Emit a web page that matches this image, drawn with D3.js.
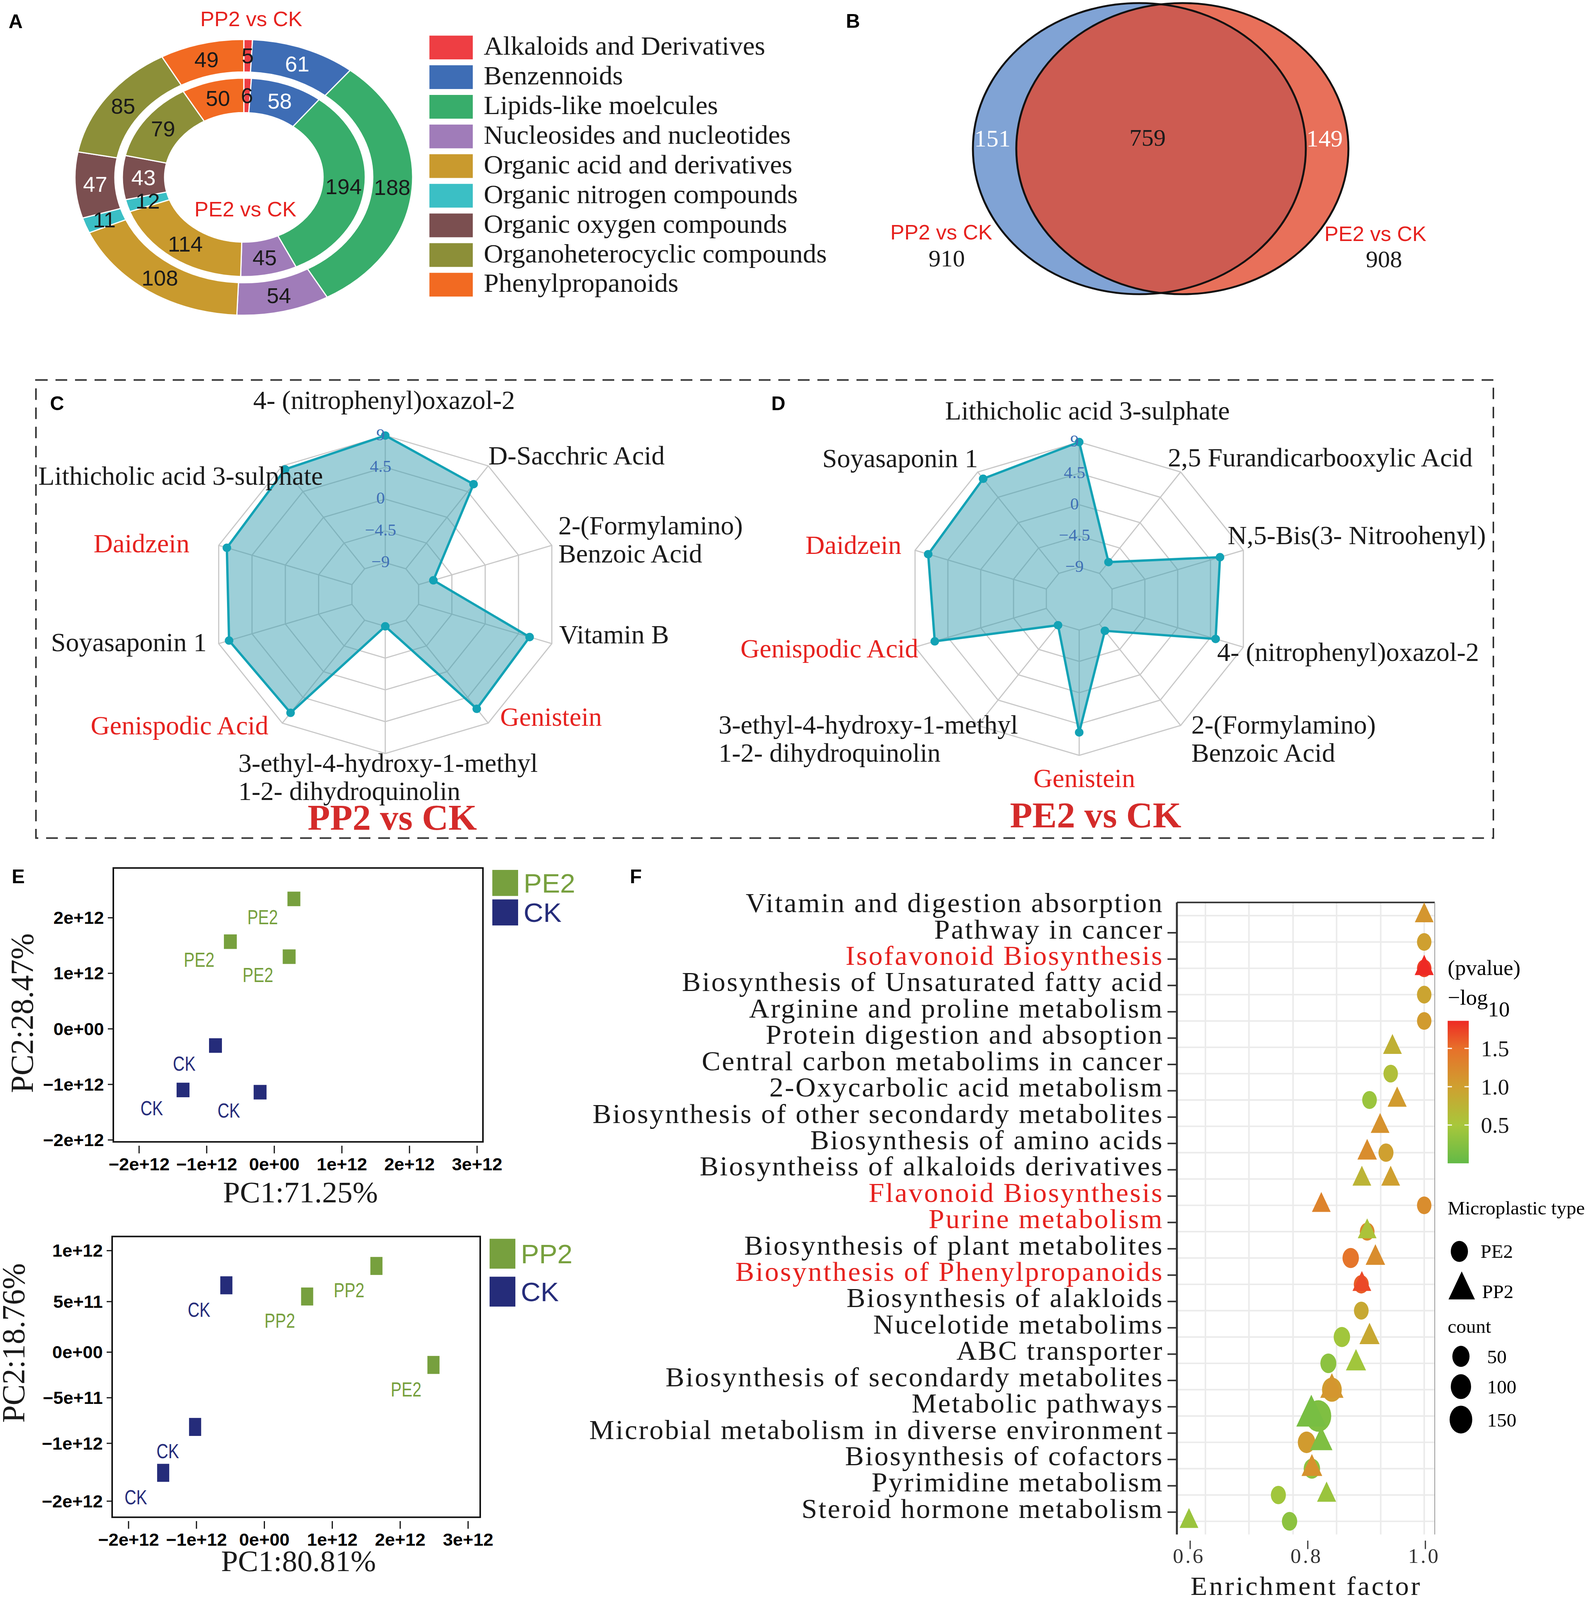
<!DOCTYPE html>
<html>
<head>
<meta charset="utf-8">
<title>Metabolite figure</title>
<script src="https://d3js.org/d3.v7.min.js"></script>
<style>
  html, body { margin: 0; padding: 0; background: #ffffff; overflow: hidden; }
  svg { display: block; }
  svg text { font-family: "Liberation Serif", "Times New Roman", serif; }
  svg text.sans { font-family: "Liberation Sans", Arial, sans-serif; }
</style>
</head>
<body>
<script>
// ---------------- data ----------------

// A: compound classes (outer ring = PP2 vs CK, inner ring = PE2 vs CK)
const classNames = [
  "Alkaloids and Derivatives",
  "Benzennoids",
  "Lipids-like moelcules",
  "Nucleosides and nucleotides",
  "Organic acid and derivatives",
  "Organic nitrogen compounds",
  "Organic oxygen compounds",
  "Organoheterocyclic compounds",
  "Phenylpropanoids"
];
const classColors = ["#ee3e43", "#3e6db5", "#38ad6b", "#a07cb9", "#c99a2e", "#3bbfc5", "#7b4f50", "#8c8f38", "#f26a22"];
const pp2Counts = [5, 61, 188, 54, 108, 11, 47, 85, 49];
const pe2Counts = [6, 58, 194, 45, 114, 12, 43, 79, 50];

// B: venn
const vennLabels = ["PP2 vs CK", "PE2 vs CK"];
const vennTotals = [910, 908];
const vennOnly = [151, 149];
const vennShared = 759;

// C / D: radar charts (axes listed clockwise from the top)
const radarTicks = [-9, -4.5, 0, 4.5, 9];
const radarTickLabels = ["\u22129", "\u22124.5", "0", "4.5", "9"];
const redCompounds = ["Daidzein", "Genispodic Acid", "Genistein"];

const radarCNames = [
  "4- (nitrophenyl)oxazol-2",
  "D-Sacchric Acid",
  "2-(Formylamino)|Benzoic Acid",
  "Vitamin B",
  "Genistein",
  "3-ethyl-4-hydroxy-1-methyl|1-2- dihydroquinolin",
  "Genispodic Acid",
  "Soyasaponin 1",
  "Daidzein",
  "Lithicholic acid 3-sulphate"
];
const radarCValues = [9, 5.8, -7, 6, 6.5, -9, 7.2, 7.6, 7.9, 8.4];

const radarDNames = [
  "Lithicholic acid 3-sulphate",
  "2,5 Furandicarbooxylic Acid",
  "N,5-Bis(3- Nitroohenyl)",
  "4- (nitrophenyl)oxazol-2",
  "2-(Formylamino)|Benzoic Acid",
  "Genistein",
  "3-ethyl-4-hydroxy-1-methyl|1-2- dihydroquinolin",
  "Genispodic Acid",
  "Daidzein",
  "Soyasaponin 1"
];
const radarDValues = [9, -7, 5.8, 5.2, -7.8, 5.7, -8.8, 6.3, 7.2, 7.8];

// E: PCA score plots
const pcaTicksX = [-2e12, -1e12, 0, 1e12, 2e12, 3e12];
const pcaTickLabelsX = ["\u22122e+12", "\u22121e+12", "0e+00", "1e+12", "2e+12", "3e+12"];

const pcaTopTicksY = [-2e12, -1e12, 0, 1e12, 2e12];
const pcaTopTickLabelsY = ["\u22122e+12", "\u22121e+12", "0e+00", "1e+12", "2e+12"];
const pcaTopGroups = ["PE2", "PE2", "PE2", "CK", "CK", "CK"];
const pcaTopPC1 = [0.29e12, -0.65e12, 0.22e12, -0.87e12, -1.35e12, -0.21e12];
const pcaTopPC2 = [2.34e12, 1.57e12, 1.30e12, -0.30e12, -1.10e12, -1.14e12];

const pcaBotTicksY = [-2e12, -1e12, -5e11, 0, 5e11, 1e12];
const pcaBotTickLabelsY = ["\u22122e+12", "\u22121e+12", "\u22125e+11", "0e+00", "5e+11", "1e+12"];
const pcaBotGroups = ["CK", "PP2", "PP2", "PE2", "CK", "CK"];
const pcaBotPC1 = [-0.56e12, 0.63e12, 1.65e12, 2.49e12, -1.02e12, -1.49e12];
const pcaBotPC2 = [6.6e11, 5.5e11, 8.5e11, -1.4e11, -8.2e11, -1.51e12];

// F: KEGG enrichment
const pathways = [
  "Vitamin and digestion absorption",
  "Pathway in cancer",
  "Isofavonoid Biosynthesis",
  "Biosynthesis of Unsaturated fatty acid",
  "Arginine and proline metabolism",
  "Protein digestion and absoption",
  "Central carbon metabolims in cancer",
  "2-Oxycarbolic acid metabolism",
  "Biosynthesis of other secondardy metabolites",
  "Biosynthesis of amino acids",
  "Biosyntheiss of alkaloids derivatives",
  "Flavonoid Biosynthesis",
  "Purine metabolism",
  "Biosynthesis of plant metabolites",
  "Biosynthesis of Phenylpropanoids",
  "Biosynthesis of alakloids",
  "Nucelotide metabolims",
  "ABC transporter",
  "Biosynthesis of secondardy metabolites",
  "Metabolic pathways",
  "Microbial metabolism in diverse environment",
  "Biosynthesis of cofactors",
  "Pyrimidine metabolism",
  "Steroid hormone metabolism"
];
const redPathways = ["Isofavonoid Biosynthesis", "Flavonoid Biosynthesis", "Purine metabolism", "Biosynthesis of Phenylpropanoids"];

const pe2Pathway = [
  "Pathway in cancer", "Isofavonoid Biosynthesis", "Biosynthesis of Unsaturated fatty acid",
  "Arginine and proline metabolism", "Central carbon metabolims in cancer", "2-Oxycarbolic acid metabolism",
  "Biosynthesis of amino acids", "Flavonoid Biosynthesis", "Purine metabolism",
  "Biosynthesis of plant metabolites", "Biosynthesis of Phenylpropanoids", "Biosynthesis of alakloids",
  "Nucelotide metabolims", "ABC transporter", "Biosynthesis of secondardy metabolites",
  "Metabolic pathways", "Microbial metabolism in diverse environment", "Biosynthesis of cofactors",
  "Pyrimidine metabolism", "Steroid hormone metabolism"
];
const pe2Factor = [1.0, 1.0, 1.0, 1.0, 0.943, 0.907, 0.935, 1.0, 0.903, 0.875, 0.893, 0.893, 0.86, 0.837, 0.843, 0.82, 0.80, 0.809, 0.752, 0.771];
const pe2Count = [20, 20, 20, 20, 20, 22, 25, 20, 22, 40, 25, 22, 40, 35, 90, 230, 55, 40, 25, 28];
const pe2LogP = [1.0, 1.75, 0.95, 1.05, 0.6, 0.4, 1.0, 1.2, 1.25, 1.45, 1.6, 0.9, 0.45, 0.3, 1.05, 0.2, 1.05, 0.3, 0.45, 0.3];

const pp2Pathway = [
  "Vitamin and digestion absorption", "Isofavonoid Biosynthesis", "Protein digestion and absoption",
  "2-Oxycarbolic acid metabolism", "Biosynthesis of other secondardy metabolites", "Biosynthesis of amino acids",
  "Biosyntheiss of alkaloids derivatives", "Biosyntheiss of alkaloids derivatives", "Flavonoid Biosynthesis",
  "Purine metabolism", "Biosynthesis of plant metabolites", "Biosynthesis of Phenylpropanoids",
  "Nucelotide metabolims", "ABC transporter", "Biosynthesis of secondardy metabolites",
  "Metabolic pathways", "Microbial metabolism in diverse environment", "Biosynthesis of cofactors",
  "Pyrimidine metabolism", "Steroid hormone metabolism"
];
const pp2Factor = [1.0, 1.0, 0.946, 0.954, 0.925, 0.903, 0.894, 0.943, 0.825, 0.903, 0.917, 0.894, 0.907, 0.884, 0.843, 0.808, 0.825, 0.809, 0.834, 0.6];
const pp2Count = [20, 22, 20, 22, 20, 25, 20, 20, 20, 20, 25, 20, 30, 30, 60, 160, 50, 35, 22, 20];
const pp2LogP = [1.1, 1.86, 0.8, 1.05, 1.15, 1.2, 0.75, 1.0, 1.3, 0.55, 1.2, 1.7, 0.9, 0.45, 1.1, 0.15, 0.2, 1.15, 0.4, 0.4];

const enrichTicks = [0.6, 0.8, 1.0];
const enrichGrid = [0.628, 0.702, 0.777, 0.851, 0.926, 1.0];
const logPTicks = [0.5, 1.0, 1.5];
const countTicks = [50, 100, 150];

// ---------------- page ----------------
// drawn in 4077 x 4177 units, stretched to whatever the viewport really is
const W = 4077, H = 4177;
const RED = "#e6221f";
const svg = d3.select("body").append("svg")
  .attr("viewBox", `0 0 ${W} ${H}`)
  .attr("preserveAspectRatio", "none")
  .style("width", "100vw")
  .style("height", "100vh");
svg.append("rect").attr("width", W).attr("height", H).attr("fill", "#fff");
const defs = svg.append("defs");

// panel letters
[["A", 22, 73], ["B", 2165, 72], ["C", 128, 1071], ["D", 1974, 1071], ["E", 30, 2306], ["F", 1612, 2306]]
  .forEach(([t, x, y]) => {
    svg.append("text").attr("class", "sans").attr("x", x).attr("y", y)
      .attr("font-size", 50).attr("font-weight", "bold").text(t);
  });

// ---------------- A: double donut ----------------
const donut = svg.append("g").attr("transform", "translate(624,463)");
const donutShapes = donut.append("g").attr("transform", "scale(1.2,1)");
const pie = d3.pie().sort(null).value(d => d);
const donutRings = [
  { counts: pp2Counts, arc: d3.arc().innerRadius(275).outerRadius(360) },
  { counts: pe2Counts, arc: d3.arc().innerRadius(169).outerRadius(259) }
];
donutRings.forEach(ring => {
  const slices = pie(ring.counts);
  donutShapes.selectAll(null).data(slices).enter().append("path")
    .attr("d", ring.arc)
    .attr("fill", (d, i) => classColors[i])
    .attr("stroke", "#fff")
    .attr("stroke-width", 3)
    .attr("vector-effect", "non-scaling-stroke");
  donut.selectAll(null).data(slices).enter().append("text")
    .attr("class", "sans")
    .attr("x", d => ring.arc.centroid(d)[0] * 1.2)
    .attr("y", d => ring.arc.centroid(d)[1] + 20)
    .attr("text-anchor", "middle")
    .attr("font-size", 56)
    .attr("fill", (d, i) => (i === 1 || i === 6 ? "#fff" : "#1a1a1a"))
    .text(d => d.data);
});
svg.append("text").attr("class", "sans").attr("x", 643).attr("y", 68)
  .attr("text-anchor", "middle").attr("font-size", 54).attr("fill", RED).text("PP2 vs CK");
svg.append("text").attr("class", "sans").attr("x", 628).attr("y", 565)
  .attr("text-anchor", "middle").attr("font-size", 54).attr("fill", RED).text("PE2 vs CK");

// legend
const legendA = svg.append("g").selectAll("g").data(classNames).enter().append("g")
  .attr("transform", (d, i) => `translate(1099,${93 + i * 77.4})`);
legendA.append("rect").attr("width", 111).attr("height", 62).attr("fill", (d, i) => classColors[i]);
legendA.append("text").attr("x", 139).attr("y", 50).attr("font-size", 69).attr("fill", "#1a1a1a").text(d => d);

// ---------------- B: venn ----------------
const vennG = svg.append("g");
const leftSet = { cx: 2916, cy: 388, rx: 426, ry: 380 };
const rightSet = { cx: 3026, cy: 388, rx: 425, ry: 380 };
defs.append("clipPath").attr("id", "leftClip").append("ellipse")
  .attr("cx", leftSet.cx).attr("cy", leftSet.cy).attr("rx", leftSet.rx).attr("ry", leftSet.ry);
vennG.append("ellipse").attr("cx", leftSet.cx).attr("cy", leftSet.cy).attr("rx", leftSet.rx).attr("ry", leftSet.ry)
  .attr("fill", "#80a3d5");
vennG.append("ellipse").attr("cx", rightSet.cx).attr("cy", rightSet.cy).attr("rx", rightSet.rx).attr("ry", rightSet.ry)
  .attr("fill", "#e8705a");
vennG.append("ellipse").attr("cx", rightSet.cx).attr("cy", rightSet.cy).attr("rx", rightSet.rx).attr("ry", rightSet.ry)
  .attr("fill", "#cd5b51").attr("clip-path", "url(#leftClip)");
[leftSet, rightSet].forEach(s => {
  vennG.append("ellipse").attr("cx", s.cx).attr("cy", s.cy).attr("rx", s.rx).attr("ry", s.ry)
    .attr("fill", "none").attr("stroke", "#111").attr("stroke-width", 5);
});
vennG.append("text").attr("x", 2540).attr("y", 382).attr("text-anchor", "middle").attr("font-size", 62)
  .attr("fill", "#fff").text(vennOnly[0]);
vennG.append("text").attr("x", 2937).attr("y", 380).attr("text-anchor", "middle").attr("font-size", 62)
  .attr("fill", "#1a1a1a").text(vennShared);
vennG.append("text").attr("x", 3390).attr("y", 382).attr("text-anchor", "middle").attr("font-size", 62)
  .attr("fill", "#fff").text(vennOnly[1]);
[[2409, 2423], [3520, 3542]].forEach(([lx, nx], i) => {
  vennG.append("text").attr("class", "sans").attr("x", lx).attr("y", 625 + i * 4).attr("text-anchor", "middle")
    .attr("font-size", 54).attr("fill", RED).text(vennLabels[i]);
  vennG.append("text").attr("x", nx).attr("y", 695 + i * 3).attr("text-anchor", "middle")
    .attr("font-size", 62).attr("fill", "#1a1a1a").text(vennTotals[i]);
});

// ---------------- C / D: radar charts ----------------
svg.append("rect").attr("x", 92).attr("y", 992).attr("width", 3730).attr("height", 1196)
  .attr("fill", "none").attr("stroke", "#333").attr("stroke-width", 4).attr("stroke-dasharray", "30 20");

function drawRadar(names, values, cfg) {
  const g = svg.append("g");
  const n = names.length;
  const r = d3.scaleLinear().domain([-9, 9]).range([cfg.R / 5, cfg.R]);
  const pt = (i, rad) => {
    const a = (i / n) * 2 * Math.PI;
    return [cfg.cx + 1.08 * rad * Math.sin(a), cfg.cy - rad * Math.cos(a)];
  };
  const closed = d3.line().curve(d3.curveLinearClosed);

  // grid
  radarTicks.forEach(t => {
    g.append("path").attr("d", closed(d3.range(n).map(i => pt(i, r(t)))))
      .attr("fill", "none").attr("stroke", "#c8c8c8").attr("stroke-width", 3);
  });
  d3.range(n).forEach(i => {
    const a = pt(i, r(-9)), b = pt(i, r(9));
    g.append("line").attr("x1", a[0]).attr("y1", a[1]).attr("x2", b[0]).attr("y2", b[1])
      .attr("stroke", "#c8c8c8").attr("stroke-width", 3);
  });

  // data
  const pts = values.map((v, i) => pt(i, r(v)));
  g.append("path").attr("d", closed(pts))
    .attr("fill", "#3b9fb1").attr("fill-opacity", 0.5)
    .attr("stroke", "#13a2b5").attr("stroke-width", 6).attr("stroke-linejoin", "round");
  g.selectAll(null).data(pts).enter().append("circle")
    .attr("cx", d => d[0]).attr("cy", d => d[1]).attr("r", 11).attr("fill", "#13a2b5");

  // ring values
  radarTicks.forEach((t, k) => {
    g.append("text").attr("x", cfg.cx - 12).attr("y", cfg.cy - r(t) + 12)
      .attr("text-anchor", "middle").attr("font-size", 44).attr("fill", "#3f6fb5")
      .text(radarTickLabels[k]);
  });

  // axis names
  names.forEach((name, i) => {
    const [x, y, anchor] = cfg.labelAt[i];
    const txt = g.append("text").attr("x", x).attr("y", y).attr("text-anchor", anchor)
      .attr("font-size", 68)
      .attr("fill", redCompounds.includes(name) ? RED : "#1a1a1a");
    name.split("|").forEach((line, j) => {
      txt.append("tspan").attr("x", x).attr("dy", j === 0 ? 0 : 74).text(line);
    });
  });

  g.append("text").attr("x", cfg.titleX).attr("y", cfg.titleY).attr("text-anchor", "middle")
    .attr("font-size", 94).attr("font-weight", "bold").attr("fill", "#d42b2a").text(cfg.title);
}

drawRadar(radarCNames, radarCValues, {
  cx: 986, cy: 1552, R: 415, title: "PP2 vs CK", titleX: 1004, titleY: 2166,
  labelAt: [
    [983, 1068, "middle"], [1250, 1213, "start"], [1429, 1395, "start"], [1431, 1680, "start"],
    [1280, 1895, "start"], [610, 2015, "start"], [687, 1917, "end"], [529, 1700, "end"],
    [485, 1442, "end"], [98, 1266, "start"]
  ]
});
drawRadar(radarDNames, radarDValues, {
  cx: 2762, cy: 1563, R: 409, title: "PE2 vs CK", titleX: 2804, titleY: 2160,
  labelAt: [
    [2783, 1095, "middle"], [2989, 1218, "start"], [3142, 1421, "start"], [3115, 1725, "start"],
    [3049, 1915, "start"], [2775, 2055, "middle"], [1839, 1915, "start"], [2350, 1716, "end"],
    [2307, 1446, "end"], [2503, 1220, "end"]
  ]
});

// ---------------- E: PCA ----------------
const groupColor = { PE2: "#77a03e", PP2: "#77a03e", CK: "#252c7a" };

function drawPca(cfg) {
  const g = svg.append("g");
  const { x, y, box } = cfg;

  g.append("rect").attr("x", box[0]).attr("y", box[1]).attr("width", box[2] - box[0]).attr("height", box[3] - box[1])
    .attr("fill", "none").attr("stroke", "#111").attr("stroke-width", 4);

  // x ticks (detached below the box)
  pcaTicksX.forEach((t, i) => {
    g.append("line").attr("x1", x(t)).attr("x2", x(t)).attr("y1", box[3] + 10).attr("y2", box[3] + 30)
      .attr("stroke", "#111").attr("stroke-width", 3);
    g.append("text").attr("class", "sans").attr("x", x(t)).attr("y", box[3] + 74)
      .attr("text-anchor", "middle").attr("font-size", 46).attr("font-weight", "bold")
      .text(pcaTickLabelsX[i]);
  });
  cfg.ticksY.forEach((t, i) => {
    g.append("line").attr("x1", box[0] - 14).attr("x2", box[0]).attr("y1", y(t)).attr("y2", y(t))
      .attr("stroke", "#111").attr("stroke-width", 3);
    g.append("text").attr("class", "sans").attr("x", box[0] - 24).attr("y", y(t) + 16)
      .attr("text-anchor", "end").attr("font-size", 46).attr("font-weight", "bold")
      .text(cfg.tickLabelsY[i]);
  });

  // points + labels
  cfg.groups.forEach((grp, i) => {
    const px = x(cfg.pc1[i]), py = y(cfg.pc2[i]);
    g.append("rect").attr("x", px - cfg.mw / 2).attr("y", py - cfg.mh / 2)
      .attr("width", cfg.mw).attr("height", cfg.mh).attr("fill", groupColor[grp]);
    g.append("text").attr("class", "sans")
      .attr("transform", `translate(${px + cfg.lab[0]},${py + cfg.lab[1]}) scale(0.8,1)`)
      .attr("text-anchor", "middle").attr("font-size", 52).attr("fill", groupColor[grp]).text(grp);
  });

  // legend
  cfg.legend.forEach((grp, i) => {
    const ly = cfg.legendY + i * cfg.legendStep;
    g.append("rect").attr("x", cfg.legendX).attr("y", ly).attr("width", 66).attr("height", cfg.legendH)
      .attr("fill", groupColor[grp]);
    g.append("text").attr("class", "sans").attr("x", cfg.legendX + 80).attr("y", ly + cfg.legendH / 2 + 25)
      .attr("font-size", 70).attr("fill", groupColor[grp]).text(grp);
  });

  // axis titles
  g.append("text").attr("x", (box[0] + box[2]) / 2 + 6).attr("y", cfg.xTitleY).attr("text-anchor", "middle")
    .attr("font-size", 78).attr("fill", "#1a1a1a").text(cfg.xTitle);
  g.append("text").attr("transform", `translate(${cfg.yTitleX},${cfg.yTitleC}) rotate(-90)`)
    .attr("text-anchor", "middle").attr("font-size", 82).attr("fill", "#1a1a1a").text(cfg.yTitle);
}

drawPca({
  x: d3.scaleLinear().domain([-2e12, 3e12]).range([356, 1221]),
  y: d3.scaleLinear().domain([-2e12, 2e12]).range([2976, 2396]),
  box: [290, 2266, 1236, 2981],
  ticksY: pcaTopTicksY, tickLabelsY: pcaTopTickLabelsY,
  groups: pcaTopGroups, pc1: pcaTopPC1, pc2: pcaTopPC2,
  mw: 33, mh: 38, lab: [-80, 66],
  legend: ["PE2", "CK"], legendX: 1260, legendY: 2271, legendStep: 77, legendH: 68,
  xTitle: "PC1:71.25%", xTitleY: 3139, yTitle: "PC2:28.47%", yTitleX: 84, yTitleC: 2645
});
drawPca({
  x: d3.scaleLinear().domain([-2e12, 3e12]).range([329, 1198]),
  y: d3.scaleLinear().domain(pcaBotTicksY).range([3919, 3768, 3649, 3530, 3398, 3265]),
  box: [287, 3228, 1229, 3961],
  ticksY: pcaBotTicksY, tickLabelsY: pcaBotTickLabelsY,
  groups: pcaBotGroups, pc1: pcaBotPC1, pc2: pcaBotPC2,
  mw: 31, mh: 47, lab: [-70, 82],
  legend: ["PP2", "CK"], legendX: 1253, legendY: 3234, legendStep: 99, legendH: 78,
  xTitle: "PC1:80.81%", xTitleY: 4102, yTitle: "PC2:18.76%", yTitleX: 62, yTitleC: 3506
});

// ---------------- F: enrichment bubble plot ----------------
const fBox = [3012, 2356, 3672, 4006];
const fx = d3.scaleLinear().domain([0.6, 1.0]).range([3043, 3645]);
const fy = d3.scalePoint().domain(pathways).range([fBox[1], fBox[3]]).padding(0.5);
const pColor = d3.scaleLinear().domain([0, 0.5, 1.0, 1.5, 1.86])
  .range(["#63ba47", "#a8c73b", "#cfa030", "#e7702a", "#ee2a24"]);
const sizeR = d3.scaleSqrt().domain([50, 150]).range([22, 29]);
const vStretch = 1.25;
const triPath = (cx, cy, rr) => {
  const s = 2.6 * rr, h = 0.866 * s * vStretch;
  return `M${cx},${cy - 2 * h / 3}L${cx - s / 2},${cy + h / 3}L${cx + s / 2},${cy + h / 3}Z`;
};

const fG = svg.append("g");
enrichGrid.forEach(v => {
  fG.append("line").attr("x1", fx(v)).attr("x2", fx(v)).attr("y1", fBox[1]).attr("y2", fBox[3])
    .attr("stroke", "#ebebeb").attr("stroke-width", 4);
});
pathways.forEach(p => {
  fG.append("line").attr("x1", fBox[0]).attr("x2", fBox[2]).attr("y1", fy(p)).attr("y2", fy(p))
    .attr("stroke", "#ebebeb").attr("stroke-width", 4);
});
fG.append("line").attr("x1", fBox[0]).attr("x2", fBox[2]).attr("y1", fBox[1]).attr("y2", fBox[1])
  .attr("stroke", "#333").attr("stroke-width", 4);
fG.append("line").attr("x1", fBox[2]).attr("x2", fBox[2]).attr("y1", fBox[1]).attr("y2", fBox[3])
  .attr("stroke", "#999").attr("stroke-width", 2);
fG.append("line").attr("x1", fBox[0]).attr("x2", fBox[0]).attr("y1", fBox[1]).attr("y2", fBox[3])
  .attr("stroke", "#333").attr("stroke-width", 5);

// row labels (set slightly above the rows, as in the original)
pathways.forEach((p, i) => {
  if (i > 0) {
    fG.append("line").attr("x1", fBox[0] - 24).attr("x2", fBox[0]).attr("y1", fy(p) - 24).attr("y2", fy(p) - 24)
      .attr("stroke", "#333").attr("stroke-width", 4);
  }
  fG.append("text").attr("x", 2978).attr("y", fy(p) - 9).attr("text-anchor", "end")
    .attr("font-size", 72).attr("letter-spacing", 3.5)
    .attr("fill", redPathways.includes(p) ? RED : "#1a1a1a").text(p);
});

// x axis
enrichTicks.forEach(t => {
  fG.append("line").attr("x1", fx(t) + 3).attr("x2", fx(t) + 3).attr("y1", 4022).attr("y2", 4044)
    .attr("stroke", "#333").attr("stroke-width", 3);
  fG.append("text").attr("x", fx(t)).attr("y", 4080).attr("text-anchor", "middle")
    .attr("font-size", 54).attr("letter-spacing", 5).attr("fill", "#333").text(t.toFixed(1));
});
fG.append("text").attr("x", 3343).attr("y", 4164).attr("text-anchor", "middle")
  .attr("font-size", 70).attr("letter-spacing", 5).attr("fill", "#1a1a1a").text("Enrichment factor");

// points
pe2Pathway.forEach((p, i) => {
  const rr = sizeR(pe2Count[i]);
  fG.append("ellipse").attr("cx", fx(pe2Factor[i])).attr("cy", fy(p))
    .attr("rx", rr).attr("ry", rr * vStretch).attr("fill", pColor(pe2LogP[i]));
});
pp2Pathway.forEach((p, i) => {
  fG.append("path").attr("d", triPath(fx(pp2Factor[i]), fy(p), sizeR(pp2Count[i])))
    .attr("fill", pColor(pp2LogP[i]));
});

// colour bar legend
const barTop = 2665, barBottom = 3037;
const barY = d3.scaleLinear().domain([0, 1.86]).range([barBottom, barTop]);
const grad = defs.append("linearGradient").attr("id", "pGrad")
  .attr("x1", 0).attr("y1", 1).attr("x2", 0).attr("y2", 0);
pColor.domain().forEach(v => {
  grad.append("stop").attr("offset", v / 1.86).attr("stop-color", pColor(v));
});
fG.append("rect").attr("x", 3705).attr("y", barTop).attr("width", 54).attr("height", barBottom - barTop)
  .attr("fill", "url(#pGrad)");
logPTicks.forEach(t => {
  [[3705, 3716], [3748, 3759]].forEach(([a, b]) => {
    fG.append("line").attr("x1", a).attr("x2", b).attr("y1", barY(t)).attr("y2", barY(t))
      .attr("stroke", "#fff").attr("stroke-width", 3);
  });
  fG.append("text").attr("x", 3790).attr("y", barY(t) + 20).attr("font-size", 58)
    .attr("fill", "#1a1a1a").text(t.toFixed(1));
});
fG.append("text").attr("x", 3705).attr("y", 2545).attr("font-size", 56).text("(pvalue)");
const logT = fG.append("text").attr("x", 3705).attr("y", 2623).attr("font-size", 56);
logT.append("tspan").text("\u2212log");
logT.append("tspan").attr("dy", 30).text("10");

// shape legend
fG.append("text").attr("x", 3705).attr("y", 3171).attr("font-size", 50).text("Microplastic type");
fG.append("ellipse").attr("cx", 3735).attr("cy", 3267).attr("rx", 22).attr("ry", 22 * vStretch).attr("fill", "#000");
fG.append("text").attr("x", 3789).attr("y", 3284).attr("font-size", 50).text("PE2");
fG.append("path").attr("d", triPath(3741, 3368, 26)).attr("fill", "#000");
fG.append("text").attr("x", 3793).attr("y", 3389).attr("font-size", 50).text("PP2");

// count legend
fG.append("text").attr("x", 3705).attr("y", 3479).attr("font-size", 50).text("count");
countTicks.forEach((c, i) => {
  const cy = [3541, 3620, 3706][i];
  fG.append("ellipse").attr("cx", 3739).attr("cy", cy).attr("rx", sizeR(c)).attr("ry", sizeR(c) * vStretch)
    .attr("fill", "#000");
  fG.append("text").attr("x", 3806).attr("y", cy + 18).attr("font-size", 50).text(c);
});
</script>
</body>
</html>
